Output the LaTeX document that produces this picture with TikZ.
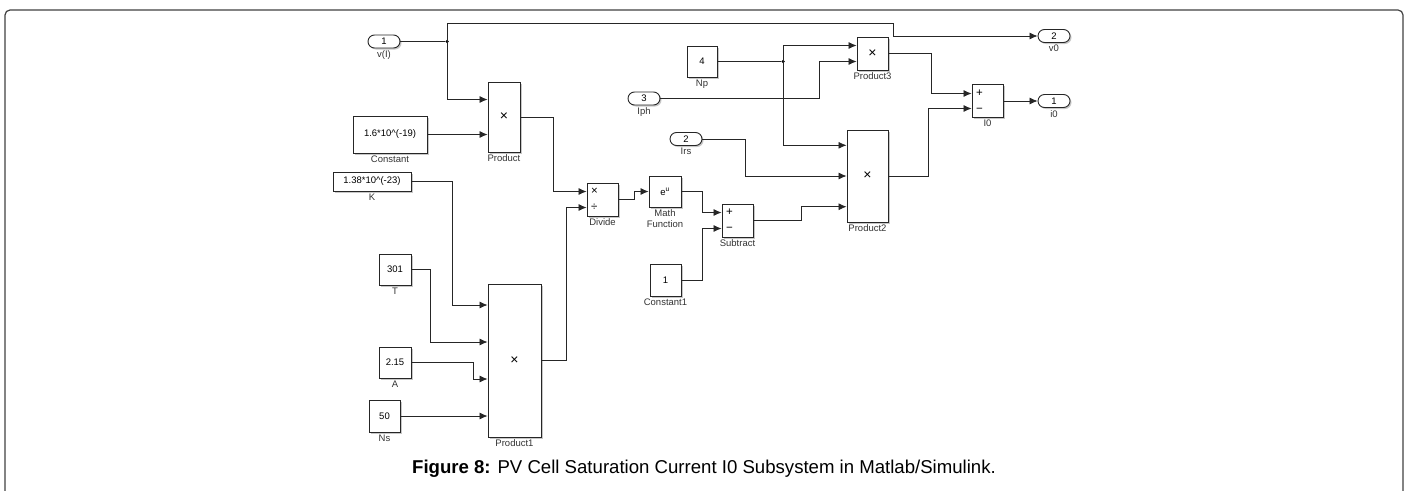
\documentclass[tikz,border=0pt]{standalone}
\usepackage{fontspec}
\setmainfont{Liberation Sans}
\usetikzlibrary{arrows.meta,shadows}
\begin{document}
\begin{tikzpicture}[x=1pt,y=-1pt,>=Latex,
  blk/.style={draw=black!85,line width=0.9pt,fill=white,inner sep=0pt,
    font=\fontsize{9.5}{11}\selectfont,
    drop shadow={shadow xshift=1.5pt,shadow yshift=-1.5pt,fill=black!22,opacity=1}},
  prd/.style={blk,font=\fontsize{14}{16}\selectfont},
  port/.style={blk,rounded corners=6.5pt,minimum width=32pt,minimum height=13pt},
  sgn/.style={blk,minimum width=31pt,minimum height=33pt,text width=23pt,inner xsep=4pt,
    align=left,font=\fontsize{11.5}{16}\selectfont},
  lbl/.style={font=\fontsize{9.5}{11}\selectfont,inner sep=2pt,text=black!80,align=center},
  a/.style={-{Latex[length=8pt,width=7pt]},line width=0.8pt,black!85},
  w/.style={line width=0.8pt,black!85},
  dot/.style={circle,fill=black,inner sep=0pt,minimum size=3.5pt}]
\useasboundingbox (0,0) rectangle (1413,490);
\draw[black!75,line width=1.2pt,rounded corners=5pt] (5,500) -- (5,10) -- (1403,10) -- (1403,500);

\node[port,label={[lbl]below:v(I)}] (in1) at (384,41.5) {1};
\node[prd,minimum width=32pt,minimum height=70pt,label={[lbl]below:Product}] (prod) at (504,117) {×};
\node[blk,minimum width=74pt,minimum height=37pt,label={[lbl]below:Constant}] (cst) at (390,134.5) {1.6*10\textasciicircum(-19)};
\node[blk,minimum width=78pt,minimum height=19pt,label={[lbl]below:K}] (kk) at (372,181.5) {1.38*10\textasciicircum(-23)};
\node[sgn,label={[lbl]below:Divide}] (div) at (602.5,199.5) {×\\÷};
\node[blk,minimum width=32pt,minimum height=31pt,label={[lbl]below:T}] (tt) at (395,269.5) {301};
\node[prd,minimum width=53pt,minimum height=153pt,label={[lbl]below:Product1}] (prod1) at (514.5,360.5) {×};
\node[blk,minimum width=32pt,minimum height=31pt,label={[lbl]below:A}] (aa) at (395,362.5) {2.15};
\node[blk,minimum width=31pt,minimum height=32pt,label={[lbl]below:Ns}] (ns) at (384.5,416) {50};
\node[blk,minimum width=32pt,minimum height=31pt,label={[lbl]below:Math\\Function}] (mf) at (665,191.5) {e\textsuperscript{u}};
\node[sgn,label={[lbl]below:Subtract}] (sub) at (737.5,220.5) {+\\−};
\node[blk,minimum width=31pt,minimum height=32pt,label={[lbl]below:Constant1}] (cst1) at (665.5,280) {1};
\node[port,label={[lbl]below:Irs}] (in2) at (686,139) {2};
\node[prd,minimum width=41pt,minimum height=92pt,label={[lbl]below:Product2}] (prod2) at (867.5,176) {×};
\node[blk,minimum width=30pt,minimum height=31pt,label={[lbl]below:Np}] (np) at (702,61.5) {4};
\node[port,label={[lbl]below:Iph}] (in3) at (644,98.5) {3};
\node[prd,minimum width=31pt,minimum height=33pt,label={[lbl]below:Product3}] (prod3) at (872.5,53.5) {×};
\node[sgn,label={[lbl]below:I0}] (i0) at (987.5,101) {+\\−};
\node[port,label={[lbl]below:v0}] (out2) at (1054,36) {2};
\node[port,label={[lbl]below:i0}] (out1) at (1054,101) {1};
\node[dot] (j1) at (447,41.5) {};
\node[dot] (j2) at (783,61.5) {};

\draw[w] (in1) -- (j1);
\draw[a] (j1.center) |- ([yshift=17.5pt]prod.west);
\draw[a] (j1.center) |- (893,23) |- (out2.west);
\draw[a] (cst) -- (cst -| prod.west);
\draw[a] (prod.east) -- ++(33,0) |- ([yshift=8pt]div.west);
\draw[a] (kk.east) -- ++(41,0) |- ([yshift=55.5pt]prod1.west);
\draw[a] (tt.east) -- ++(19,0) |- ([yshift=18.5pt]prod1.west);
\draw[a] (aa.east) -- ++(62,0) |- ([yshift=-18.5pt]prod1.west);
\draw[a] (ns) -- (ns -| prod1.west);
\draw[a] (prod1.east) -- ++(25,0) |- ([yshift=-8pt]div.west);
\draw[a] (div.east) -- ++(16,0) |- (mf.west);
\draw[a] (mf.east) -- ++(21,0) |- ([yshift=8pt]sub.west);
\draw[a] (cst1.east) -- ++(21,0) |- ([yshift=-8pt]sub.west);
\draw[a] (sub.east) -- ++(48,0) |- ([yshift=-30.7pt]prod2.west);
\draw[a] (in2.east) -- ++(43,0) |- (prod2.west);
\draw[w] (np) -- (j2);
\draw[a] (j2.center) |- ([yshift=8pt]prod3.west);
\draw[a] (j2.center) |- ([yshift=30.7pt]prod2.west);
\draw[a] (in3.east) -- ++(159,0) |- ([yshift=-8pt]prod3.west);
\draw[a] (prod3.east) -- ++(43,0) |- ([yshift=7.5pt]i0.west);
\draw[a] (prod2.east) -- ++(40,0) |- ([yshift=-7.5pt]i0.west);
\draw[a] (i0) -- (out1);

\node[font=\fontsize{18.6}{22}\selectfont] (cap) at (704,469)
  {\textbf{Figure 8:} PV Cell Saturation Current I0 Subsystem in Matlab/Simulink.};
\end{tikzpicture}
\end{document}
